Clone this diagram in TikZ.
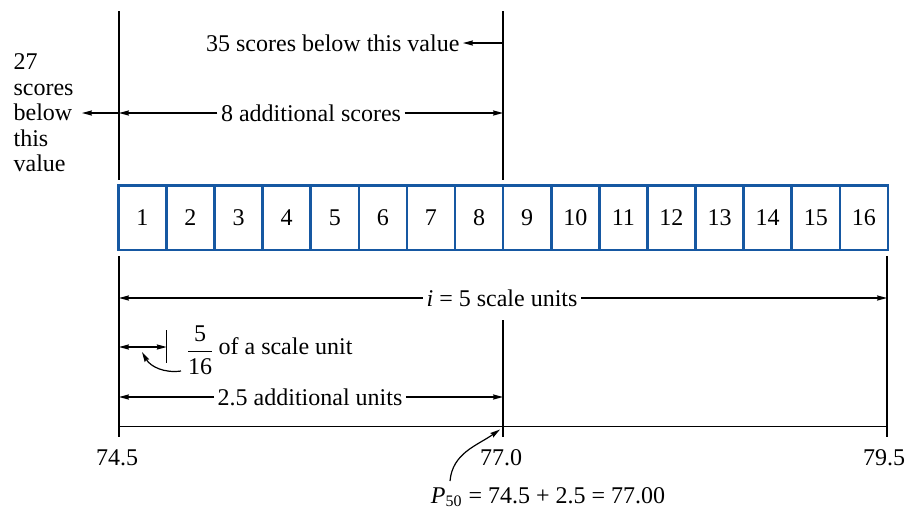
\documentclass[tikz,border=0pt]{standalone}
\usepackage{amsmath}
\usepackage{fontspec}
\setmainfont{Liberation Serif}
\definecolor{cellblue}{RGB}{22,88,162}
\usepackage{tikz}
\usetikzlibrary{arrows.meta, positioning}
\tikzset{
	cellbox/.style={draw=cellblue, line width=1.3pt, minimum width=24.05pt,
			minimum height=32.2pt, inner sep=0pt, font=\rmfamily\fontsize{12}{12.75}\selectfont}
}
\tikzset{
	plaintext/.style={inner sep=1.5pt, font=\rmfamily\fontsize{12}{12.75}\selectfont}
}
\tikzset{
	dimarrow/.style={line width=0.6pt, -{Stealth[length=5pt, width=2.6pt, inset=0.6pt]}}
}

\begin{document}
\begin{tikzpicture}[x=0.5pt, y=-0.5pt, line width=0.6pt]
	\useasboundingbox (0,0) rectangle (909,510);

	\begin{scope}
		\coordinate (lTop) at (119,11);
		\coordinate (lUp) at (119,180);
		\coordinate (mTop) at (503,11);
		\coordinate (mUp) at (503,180);
		\coordinate (lLow) at (119,256);
		\coordinate (mLow) at (503,320);
		\coordinate (rLow) at (887,256);
		\coordinate (lEnd) at (119,437);
		\coordinate (mEnd) at (503,437);
		\coordinate (rEnd) at (887,437);
		\coordinate (lBase) at (119,426.5);
		\coordinate (rBase) at (887,426.5);

		\draw (lTop) -- (lUp);
		\draw (mTop) -- (mUp);
		\draw (lLow) -- (lEnd);
		\draw (mLow) -- (mEnd);
		\draw (rLow) -- (rEnd);
		\draw (lBase) -- (rBase);
	\end{scope}

	\begin{scope}
		\foreach \k in {1,...,16} {
				\node[cellbox] (c\k) at ({118.3+48.1*(\k-0.5)},217.9) {\k};
			}
	\end{scope}

	\begin{scope}
		% above the cells
		\node[plaintext, anchor=east] (below35) at (463,43) {35 scores below this value};
		\draw[dimarrow] (mTop |- below35) -- (below35);

		\node[plaintext] (add8) at (311,113) {8 additional scores};
		\draw[dimarrow] (add8) -- (lTop |- add8);
		\draw[dimarrow] (add8) -- (mTop |- add8);

		\node[plaintext, align=left, anchor=west, inner sep=0pt] (below27) at (13,113)
		{27\\scores\\below\\this\\value};
		\coordinate (tip27) at (82,113);
		\draw[dimarrow] (lTop |- tip27) -- (tip27);
	\end{scope}

	\begin{scope}
		% below the cells
		\node[plaintext] (iunits) at (502,298) {\textit{i} = 5 scale units};
		\draw[dimarrow] (iunits) -- (lTop |- iunits);
		\draw[dimarrow] (iunits) -- (rLow |- iunits);

		\coordinate (fracTick) at (166.7,347);
		\draw[dimarrow, {Stealth[length=5pt, width=2.6pt, inset=0.6pt]}-{Stealth[length=5pt, width=2.6pt, inset=0.6pt]}] (lTop |- fracTick) -- (fracTick);
		\draw ([yshift=8.5pt]fracTick) -- ([yshift=-8pt]fracTick);
		\node[plaintext, anchor=west, inner sep=0pt] (frac) at (185,350) {$\dfrac{\mbox{5}}{\mbox{16}}$};
		\node[plaintext, anchor=west, inner sep=0pt] (fractext) at ([xshift=1.5pt]frac.east |- 0,346) {of a scale unit};
		\coordinate (fracTail) at (181,371);
		\coordinate (fracTip) at (142,352);
		\draw[dimarrow] (fracTail) to[out=188, in=-60] (fracTip);

		\node[plaintext] (add25) at (310,397) {2.5 additional units};
		\draw[dimarrow] (add25) -- (lTop |- add25);
		\draw[dimarrow] (add25) -- (mTop |- add25);
	\end{scope}

	\begin{scope}
		\node[plaintext] (l745) at (117,458) {74.5};
		\node[plaintext] (l770) at (501,458) {77.0};
		\node[plaintext] (l795) at (884,458) {79.5};

		\node[plaintext] (p50) at (548,497) {\textit{P}\textsubscript{50} = 74.5 + 2.5 = 77.00};
		\coordinate (p50Tip) at (500,429.5);
		\draw[dimarrow] (450,481) to[out=85, in=215] (p50Tip);
	\end{scope}

\end{tikzpicture}
\end{document}
